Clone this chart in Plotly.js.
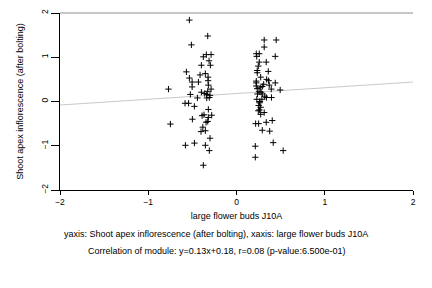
<!DOCTYPE html>
<html><head><meta charset="utf-8">
<script src="https://cdn.plot.ly/plotly-3.0.1.min.js"></script>
<style>html,body{margin:0;padding:0;background:#fff}</style>
</head><body><div id="chart" style="width:432px;height:288px"></div>
<script>
// Left cluster (x ~ -0.4)
const leftX = [-0.534,-0.326,-0.511,-0.376,-0.342,-0.288,-0.311,-0.398,-0.296,-0.568,-0.413,-0.353,-0.534,-0.322,-0.503,-0.432,-0.322,-0.503,-0.319,-0.771,-0.288,-0.326,-0.398,-0.360,-0.523,-0.337,-0.300,-0.443,-0.337,-0.308,-0.583,-0.543,-0.477,-0.319,-0.390,-0.368,-0.281,-0.319,-0.500,-0.326,-0.345,-0.749,-0.382,-0.402,-0.353,-0.300,-0.579,-0.477,-0.353,-0.308,-0.376];
const leftY = [1.84,1.48,1.28,1.01,1.06,1.06,0.92,0.82,0.82,0.67,0.60,0.63,0.53,0.55,0.44,0.44,0.47,0.33,0.37,0.28,0.28,0.23,0.21,0.18,0.16,0.16,0.14,0.08,0.08,0.09,-0.04,-0.04,-0.11,-0.18,-0.32,-0.30,-0.31,-0.36,-0.40,-0.45,-0.47,-0.51,-0.58,-0.68,-0.66,-0.83,-0.99,-0.94,-0.99,-1.11,-1.44];
// Right cluster (x ~ 0.3)
const rightX = [0.314,0.450,0.314,0.224,0.258,0.229,0.439,0.258,0.337,0.247,0.235,0.360,0.235,0.274,0.342,0.364,0.224,0.224,0.439,0.308,0.292,0.224,0.371,0.235,0.269,0.394,0.495,0.255,0.279,0.238,0.292,0.320,0.339,0.396,0.230,0.288,0.266,0.262,0.251,0.274,0.260,0.247,0.314,0.274,0.217,0.251,0.337,0.405,0.292,0.376,0.416,0.213,0.529,0.213];
const rightY = [1.39,1.39,1.23,1.08,1.08,1.02,1.02,0.89,0.89,0.80,0.70,0.68,0.65,0.55,0.50,0.47,0.46,0.42,0.42,0.39,0.34,0.35,0.37,0.29,0.31,0.28,0.26,0.22,0.21,0.17,0.17,0.12,0.09,0.09,0.05,0.05,0.00,-0.03,-0.09,-0.13,-0.19,-0.21,-0.25,-0.29,-0.50,-0.50,-0.47,-0.43,-0.65,-0.67,-0.93,-1.01,-1.11,-1.26];
const slope = 0.13, intercept = 0.18;
const lineX = [-2, 2];
const tickVals = [-2, -1, 0, 1, 2];
const xLabel = "large flower buds J10A";
const yLabel = "Shoot apex inflorescence (after bolting)";
const caption1 = "yaxis: Shoot apex inflorescence (after bolting), xaxis: large flower buds J10A";
const caption2 = "Correlation of module: y=0.13x+0.18, r=0.08 (p-value:6.500e-01)";

const ptsX = leftX.concat(rightX), ptsY = leftY.concat(rightY);
const fam = "Liberation Sans, Arial, sans-serif";
const font = {family: fam, size: 8.5, color: "#000"};
const W = 432, H = 288, M = {l: 60, r: 19, t: 13, b: 98};
const pageCenter = (W / 2 - M.l) / (W - M.l - M.r);
const traces = [
  {x: lineX, y: lineX.map(v => slope*v + intercept), mode: "lines", line: {color: "#c8c8c8", width: 1}, hoverinfo: "skip"},
  {x: ptsX, y: ptsY, mode: "markers", marker: {symbol: "cross-thin", size: 4.5, line: {color: "#000", width: 1}, color: "#000"}}
];
const layout = {
  width: W, height: H, showlegend: false,
  paper_bgcolor: "#fff", plot_bgcolor: "#fff", font: font,
  margin: M,
  xaxis: {range: [-2, 2], tickvals: tickVals, ticks: "outside", ticklen: 4, tickcolor: "#000",
          showgrid: false, zeroline: false, showline: true, linecolor: "#000", linewidth: 1,
          tickfont: font, title: {text: xLabel, font: {family: fam, size: 9}, standoff: 6}},
  yaxis: {range: [-2, 2], tickvals: tickVals, ticks: "outside", ticklen: 8, tickcolor: "#000", tickangle: -90,
          showgrid: false, zeroline: false, showline: true, linecolor: "#000", linewidth: 1,
          tickfont: font, title: {text: yLabel, font: {family: fam, size: 9}, standoff: 14}},
  shapes: [{type: "line", xref: "paper", yref: "paper", x0: 0, x1: 1, y0: 1, y1: 1, line: {color: "#b4b4b4", width: 1.5}}],
  annotations: [
    {text: caption1, xref: "paper", yref: "paper", x: pageCenter, xanchor: "center", y: -0.25, yanchor: "middle", showarrow: false, font: {family: fam, size: 9}},
    {text: caption2, xref: "paper", yref: "paper", x: pageCenter, xanchor: "center", y: -0.345, yanchor: "middle", showarrow: false, font: {family: fam, size: 9}}
  ]
};
Plotly.newPlot("chart", traces, layout, {staticPlot: true, displayModeBar: false});
</script></body></html>
